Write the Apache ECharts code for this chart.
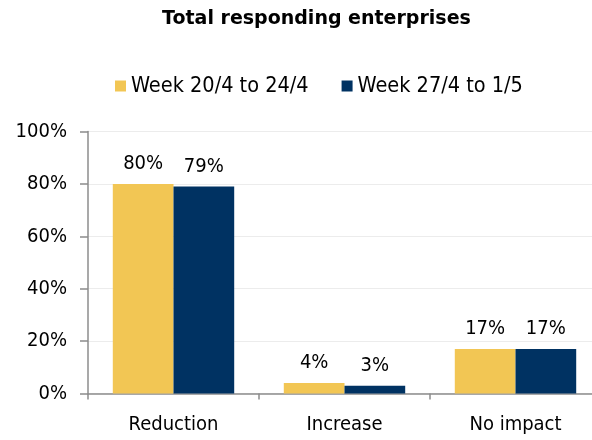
<!DOCTYPE html>
<html>
<head>
<meta charset="utf-8">
<script src="https://cdn.jsdelivr.net/npm/echarts@6/dist/echarts.min.js"></script>
<style>
  html, body { margin: 0; padding: 0; background: #ffffff; }
  #chart { width: 592px; height: 440px; }
</style>
</head>
<body>
<div id="chart"></div>
<script>
const categories = ['Reduction', 'Increase', 'No impact'];
const seriesNames = ['Week 20/4 to 24/4', 'Week 27/4 to 1/5'];
const week1 = [80, 4, 17];
const week2 = [79, 3, 17];
const yTicks = [0, 20, 40, 60, 80, 100];

const FONT = "'DejaVu Sans Condensed', 'DejaVu Sans', sans-serif";
const YELLOW = '#F2C654';
const NAVY = '#003262';
const AXIS = '#8c8c8c';

const chart = echarts.init(document.getElementById('chart'), null, { renderer: 'canvas' });

const barLabel = {
  show: true,
  position: 'top',
  distance: 10,
  color: '#000000',
  fontFamily: FONT,
  fontSize: 20,
  formatter: p => p.value + '%'
};

chart.setOption({
  animation: false,
  backgroundColor: '#ffffff',
  title: {
    text: 'Total responding enterprises',
    left: 157,
    top: 5,
    textStyle: { fontFamily: "'DejaVu Sans', sans-serif", fontWeight: 'bold', fontSize: 19, color: '#000000' }
  },
  legend: {
    data: seriesNames,
    top: 70,
    left: 110,
    itemWidth: 11,
    itemHeight: 11,
    itemGap: 33,
    icon: 'rect',
    textStyle: { fontFamily: FONT, fontSize: 21.5, color: '#000000' }
  },
  // the plot runs a little past the right edge of the canvas
  grid: { left: 88, width: 513, top: 131.5, bottom: 46.5, containLabel: false, outerBoundsMode: 'none' },
  xAxis: {
    type: 'category',
    data: categories,
    axisLine: { lineStyle: { color: AXIS, width: 1.5 } },
    axisTick: { show: true, length: 6, lineStyle: { color: AXIS, width: 1.5 } },
    axisLabel: { fontFamily: FONT, fontSize: 20, color: '#000000', margin: 21 }
  },
  yAxis: {
    type: 'value',
    min: yTicks[0],
    max: yTicks[yTicks.length - 1],
    interval: 20,
    axisLine: { show: true, lineStyle: { color: AXIS, width: 1.5 } },
    axisTick: { show: true, length: 8, lineStyle: { color: AXIS, width: 1.5 } },
    axisLabel: { fontFamily: FONT, fontSize: 20, color: '#000000', margin: 21, formatter: v => v + '%' },
    splitLine: { show: true, lineStyle: { color: '#ececec', width: 1 } }
  },
  series: [
    {
      name: seriesNames[0], type: 'bar', data: week1,
      itemStyle: { color: YELLOW },
      barGap: '0%', barCategoryGap: '29%',
      label: barLabel
    },
    {
      name: seriesNames[1], type: 'bar', data: week2,
      itemStyle: { color: NAVY },
      barGap: '0%', barCategoryGap: '29%',
      label: barLabel
    }
  ]
});
</script>
</body>
</html>
